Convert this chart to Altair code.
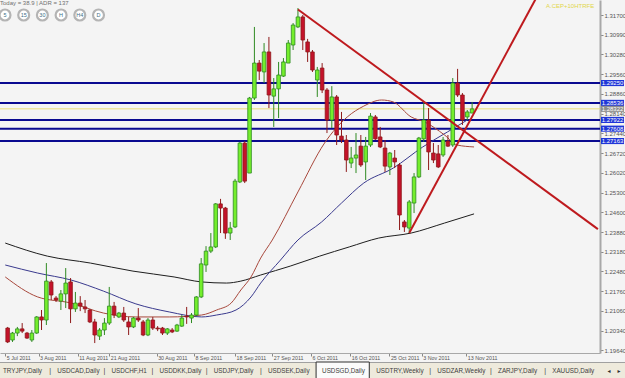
import altair as alt
import pandas as pd

# ---------------- data ----------------
opens = [1.2043, 1.2000, 1.2025, 1.2040, 1.2025, 1.2000, 1.2025, 1.2083, 1.2072, 1.2209,
         1.2151, 1.2140, 1.2166, 1.2209, 1.2112, 1.2133, 1.2119, 1.2108, 1.2065, 1.2014,
         1.2036, 1.2061, 1.2122, 1.2083, 1.2097, 1.2065, 1.2047, 1.2079, 1.2065, 1.2018,
         1.2072, 1.2043, 1.2043, 1.2025, 1.2036, 1.2032, 1.2050, 1.2086, 1.2079, 1.2090,
         1.2155, 1.2270, 1.2320, 1.2335, 1.2490, 1.2475, 1.2385, 1.2407, 1.2569, 1.2709,
         1.2601, 1.2871, 1.2997, 1.2965, 1.3037, 1.2878, 1.2904, 1.2950, 1.2997, 1.3062,
         1.3127, 1.3163, 1.3073, 1.3037, 1.2936, 1.2979, 1.2900, 1.2792, 1.2875, 1.2734,
         1.2720, 1.2637, 1.2655, 1.2698, 1.2641, 1.2702, 1.2803, 1.2731, 1.2691, 1.2623,
         1.2655, 1.2630, 1.2425, 1.2403, 1.2493, 1.2587, 1.2724, 1.2792, 1.2673, 1.2670,
         1.2666, 1.2716, 1.2702, 1.2925, 1.2882, 1.2803, 1.2817]
closes = [1.1993, 1.2025, 1.2040, 1.2032, 1.2007, 1.2025, 1.2083, 1.2072, 1.2212, 1.2162,
          1.2144, 1.2166, 1.2205, 1.2112, 1.2133, 1.2122, 1.2112, 1.2065, 1.2018, 1.2036,
          1.2061, 1.2122, 1.2090, 1.2097, 1.2072, 1.2047, 1.2079, 1.2072, 1.2018, 1.2072,
          1.2043, 1.2040, 1.2025, 1.2040, 1.2029, 1.2054, 1.2079, 1.2083, 1.2090, 1.2155,
          1.2274, 1.2320, 1.2335, 1.2490, 1.2475, 1.2385, 1.2403, 1.2572, 1.2709, 1.2572,
          1.2871, 1.2997, 1.2968, 1.3037, 1.2882, 1.2904, 1.2954, 1.3001, 1.3069, 1.3134,
          1.3163, 1.3080, 1.3037, 1.2972, 1.2972, 1.2900, 1.2792, 1.2875, 1.2738, 1.2720,
          1.2648, 1.2655, 1.2666, 1.2630, 1.2698, 1.2806, 1.2724, 1.2695, 1.2626, 1.2673,
          1.2641, 1.2450, 1.2407, 1.2497, 1.2587, 1.2727, 1.2792, 1.2677, 1.2648, 1.2623,
          1.2720, 1.2698, 1.2925, 1.2882, 1.2792, 1.2821, 1.2832]
highs = [1.2047, 1.2029, 1.2047, 1.2061, 1.2029, 1.2036, 1.2086, 1.2108, 1.2277, 1.2216,
         1.2158, 1.2180, 1.2259, 1.2223, 1.2173, 1.2158, 1.2144, 1.2112, 1.2076, 1.2043,
         1.2079, 1.2191, 1.2137, 1.2101, 1.2119, 1.2083, 1.2083, 1.2115, 1.2072, 1.2079,
         1.2083, 1.2050, 1.2047, 1.2043, 1.2043, 1.2058, 1.2090, 1.2119, 1.2097, 1.2158,
         1.2295, 1.2338, 1.2385, 1.2493, 1.2508, 1.2479, 1.2425, 1.2580, 1.2713, 1.2716,
         1.2875, 1.3127, 1.3008, 1.3069, 1.3091, 1.2943, 1.3001, 1.3015, 1.3080, 1.3141,
         1.3195, 1.3170, 1.3084, 1.3044, 1.2983, 1.2997, 1.2907, 1.2914, 1.2882, 1.2821,
         1.2738, 1.2695, 1.2745, 1.2738, 1.2731, 1.2817, 1.2810, 1.2767, 1.2720, 1.2677,
         1.2684, 1.2637, 1.2432, 1.2504, 1.2601, 1.2731, 1.2857, 1.2835, 1.2709, 1.2702,
         1.2731, 1.2738, 1.2943, 1.2976, 1.2889, 1.2828, 1.2857]
lows = [1.1989, 1.1993, 1.2014, 1.2025, 1.2004, 1.1993, 1.2022, 1.2036, 1.2054, 1.2144,
        1.2137, 1.2108, 1.2115, 1.2061, 1.2101, 1.2104, 1.2097, 1.2061, 1.1989, 1.2000,
        1.2018, 1.2054, 1.2079, 1.2079, 1.2065, 1.2018, 1.2043, 1.2065, 1.2014, 1.2014,
        1.2036, 1.2032, 1.2018, 1.2018, 1.2025, 1.2029, 1.2047, 1.2058, 1.2061, 1.2086,
        1.2151, 1.2245, 1.2313, 1.2331, 1.2385, 1.2364, 1.2360, 1.2403, 1.2565, 1.2565,
        1.2601, 1.2864, 1.2936, 1.2925, 1.2835, 1.2767, 1.2799, 1.2947, 1.2997, 1.3044,
        1.3123, 1.3044, 1.3001, 1.2965, 1.2875, 1.2889, 1.2745, 1.2763, 1.2702, 1.2709,
        1.2605, 1.2619, 1.2601, 1.2623, 1.2576, 1.2695, 1.2720, 1.2691, 1.2605, 1.2594,
        1.2619, 1.2396, 1.2389, 1.2385, 1.2457, 1.2583, 1.2713, 1.2612, 1.2637, 1.2619,
        1.2659, 1.2695, 1.2695, 1.2875, 1.2774, 1.2792, 1.2817]

ma_long_bars = [-0.5, 8.2, 17.1, 25.9, 34.4, 40.1, 45.2, 48.2, 52.3, 58.4, 64.5, 70.6, 76.7, 83.4, 90.3, 96.4]
ma_long_vals = [1.2349, 1.2302, 1.2277, 1.2248, 1.2227, 1.2209, 1.2205, 1.2212, 1.2234, 1.2266,
                1.2302, 1.2335, 1.2367, 1.2385, 1.2421, 1.2454]
ma_mid_bars = [-0.5, 6.2, 13.1, 19.8, 26.5, 33.4, 40.1, 43.2, 47.2, 50.3, 52.3, 56.4, 60.0, 64.9,
               69.0, 73.6, 79.7, 85.8, 90.9, 95.0]
ma_mid_vals = [1.2270, 1.2241, 1.2216, 1.2176, 1.2130, 1.2101, 1.2083, 1.2090, 1.2108, 1.2155,
               1.2205, 1.2288, 1.2360, 1.2425, 1.2493, 1.2565, 1.2619, 1.2695, 1.2749, 1.2792]
ma_short_bars = [-0.5, 6.2, 13.1, 19.8, 26.5, 33.4, 40.1, 43.2, 46.2, 48.2, 50.3, 52.3, 54.7, 60.0,
                 65.5, 70.2, 73.6, 77.3, 79.7, 83.4, 86.2, 90.3, 92.9, 96.4]
ma_short_vals = [1.2227, 1.2155, 1.2133, 1.2097, 1.2083, 1.2083, 1.2090, 1.2108, 1.2133, 1.2180,
                 1.2227, 1.2295, 1.2360, 1.2533, 1.2709, 1.2803, 1.2842, 1.2864, 1.2857, 1.2803,
                 1.2785, 1.2738, 1.2702, 1.2695]

trend_names = ["down", "down", "up", "up"]
trend_bars = [60.0, 122.0, 83.0, 112.0]
trend_vals = [1.3190, 1.2399, 1.2385, 1.3320]

level_prices = [1.29250, 1.28536, 1.27922, 1.27608, 1.27163]
bid_price = 1.28322

y_ticks = [1.31700, 1.30990, 1.30280, 1.29560, 1.28860, 1.28140, 1.27440, 1.26720, 1.26020,
           1.25300, 1.24600, 1.23880, 1.23180, 1.22480, 1.21760, 1.21060, 1.20340, 1.19640]
x_tick_bars = [-0.5, 6.4, 14.5, 21.0, 30.8, 38.5, 47.0, 54.7, 62.7, 70.8, 78.9, 85.6, 94.8]
x_tick_labels = ["5 Jul 2011", "3 Aug 2011", "11 Aug 2011", "21 Aug 2011", "30 Aug 2011",
                 "8 Sep 2011", "18 Sep 2011", "27 Sep 2011", "6 Oct 2011", "16 Oct 2011",
                 "25 Oct 2011", "3 Nov 2011", "13 Nov 2011"]

tab_names = ["TRYJPY,Daily", "USDCAD,Daily", "USDCHF,H1", "USDDKK,Daily", "USDJPY,Daily",
             "USDSEK,Daily", "USDSGD,Daily", "USDTRY,Weekly", "USDZAR,Weekly", "ZARJPY,Daily",
             "XAUUSD,Daily"]
active_tab = "USDSGD,Daily"
button_labels = ["5", "15", "30", "H", "H4", "D"]
info_text = "Today = 38.9   |   ADR = 137"
corner_text = "A.CEP+10HTRFE"

# ---------------- layout / style ----------------
W, H = 600, 353
BG = "#F4F4F4"
FONT = "Liberation Sans"
X_DOM = [-0.55, 121.4]
Y_DOM = [1.19532, 1.3224]

lbl_expr = ("[" + ",".join("'%s'" % t for t in x_tick_labels) + "][indexof(["
            + ",".join(str(v) for v in x_tick_bars) + "], datum.value)]")

x_axis = alt.Axis(values=x_tick_bars, labelExpr=lbl_expr, labelAlign="left", labelOffset=1,
                  labelBaseline="middle", labelFontSize=5.3, labelFont=FONT, labelColor="#555555",
                  labelPadding=1, tickSize=3, tickColor="#888888", domainColor="#A8A8A8",
                  domainWidth=1, labelOverlap=False, labelFlush=False, grid=False, title=None)
y_axis = alt.Axis(orient="right", values=y_ticks, format=".5f", labelFontSize=6, labelFont=FONT,
                  labelColor="#555555", labelPadding=1, tickSize=3, tickColor="#888888",
                  domainColor="#A8A8A8", domainWidth=2, labelOverlap=False, grid=False, title=None)

def xq(field):
    return alt.X(field + ":Q", scale=alt.Scale(domain=X_DOM, nice=False, zero=False), axis=x_axis)

def yq(field):
    return alt.Y(field + ":Q", scale=alt.Scale(domain=Y_DOM, nice=False, zero=False), axis=y_axis)

n = len(opens)
candles = pd.DataFrame({"bar": list(range(n)), "open": opens, "close": closes,
                        "high": highs, "low": lows})
candles["dir"] = ["up" if c >= o else "down" for o, c in zip(opens, closes)]
is_up = "datum.dir == 'up'"

levels = alt.Chart(pd.DataFrame({"price": level_prices})).mark_rule(
    color="#0A0A90", strokeWidth=2).encode(y=yq("price"))
bid_line = alt.Chart(pd.DataFrame({"price": [bid_price]})).mark_rule(
    color="#EBDD7A", strokeWidth=1).encode(y=yq("price"))

def ma_layer(bars, vals, color):
    d = pd.DataFrame({"bar": bars, "val": vals})
    return alt.Chart(d).mark_line(color=color, strokeWidth=1, interpolate="monotone").encode(
        x=xq("bar"), y=yq("val"))

ma_long = ma_layer(ma_long_bars, ma_long_vals, "#1E1E1E")
ma_mid = ma_layer(ma_mid_bars, ma_mid_vals, "#3A3A8E")
ma_short = ma_layer(ma_short_bars, ma_short_vals, "#A8483C")

wicks = alt.Chart(candles).mark_rule(strokeWidth=1).encode(
    x=xq("bar"), y=yq("low"), y2="high",
    color=alt.condition(is_up, alt.value("#2F8A22"), alt.value("#8E1A1A")))
bodies = alt.Chart(candles).mark_bar(size=3.6, strokeWidth=0.8).encode(
    x=xq("bar"), y=yq("open"), y2="close",
    fill=alt.condition(is_up, alt.value("#74EE2C"), alt.value("#C4122A")),
    stroke=alt.condition(is_up, alt.value("#2F8A22"), alt.value("#8E1A1A")))

trend_df = pd.DataFrame({"name": trend_names, "bar": trend_bars, "val": trend_vals})
trends = alt.Chart(trend_df).mark_line(color="#BE1A1E", strokeWidth=2, clip=True).encode(
    x=xq("bar"), y=yq("val"), detail="name:N")

# price tags on the right axis
half = 0.0011
tag_prices = level_prices + [bid_price]
tags_df = pd.DataFrame({"price": tag_prices,
                        "lo": [p - half for p in tag_prices],
                        "hi": [p + half for p in tag_prices],
                        "kind": ["level"] * len(level_prices) + ["bid"]})
tag_boxes = alt.Chart(tags_df).mark_rect().encode(
    x=alt.value(601), x2=alt.value(624), y=yq("lo"), y2="hi",
    color=alt.condition("datum.kind == 'bid'", alt.value("#8C8C8C"), alt.value("#2036D8")))
tag_text = alt.Chart(tags_df).mark_text(fontSize=6, font=FONT, color="white",
                                        align="center", baseline="middle").encode(
    x=alt.value(612.5), y=yq("price"), text=alt.Text("price:Q", format=".5f"))

# ---------------- window chrome (pixel placed) ----------------
def px_x(f):
    return alt.X(f + ":Q", scale=None, axis=None)

def px_y(f):
    return alt.Y(f + ":Q", scale=None, axis=None)

info = alt.Chart(pd.DataFrame({"t": [info_text], "px": [0], "py": [3]})).mark_text(
    fontSize=6, font=FONT, color="#707070", align="left", baseline="middle").encode(
    x=px_x("px"), y=px_y("py"), text="t:N")
corner = alt.Chart(pd.DataFrame({"t": [corner_text], "px": [546], "py": [6]})).mark_text(
    fontSize=6, font=FONT, color="#E2D64A", align="left", baseline="middle").encode(
    x=px_x("px"), y=px_y("py"), text="t:N")

btn_df = pd.DataFrame({"t": button_labels,
                       "px": [5 + 18.7 * k for k in range(len(button_labels))],
                       "py": [15] * len(button_labels)})
btn_circles = alt.Chart(btn_df).mark_point(shape="circle", size=120, filled=False,
                                           stroke="#B4B4B4", strokeWidth=2.2, fill="white",
                                           fillOpacity=1).encode(
    x=px_x("px"), y=px_y("py"))
btn_text = alt.Chart(btn_df).mark_text(fontSize=5.5, font=FONT, color="#3D6F86",
                                       align="center", baseline="middle").encode(
    x=px_x("px"), y=px_y("py"), text="t:N")

def text_w(s, fs):
    w = 0.0
    for ch in s:
        if ch in "MW":
            w += 0.92
        elif ch.isupper():
            w += 0.66
        elif ch.isdigit():
            w += 0.556
        elif ch in "il,.|":
            w += 0.24
        else:
            w += 0.52
    return w * fs

TAB_FS = 6.3
TAB_Y = 370.5
starts, widths = [], []
cur = 3.0
for name in tab_names:
    tw = text_w(name, TAB_FS)
    starts.append(cur)
    widths.append(tw)
    cur += tw + 14
tabs_df = pd.DataFrame({"t": tab_names, "px": starts, "py": [TAB_Y] * len(tab_names)})
ai = tab_names.index(active_tab)
seps = []
for k in range(len(tab_names) - 1):
    if k == ai or k + 1 == ai:
        continue
    seps.append((starts[k] + widths[k] + starts[k + 1]) / 2)
sep_df = pd.DataFrame({"t": ["|"] * len(seps), "px": seps, "py": [TAB_Y] * len(seps)})

dummy = pd.DataFrame({"d": [0]})
tab_bar = alt.Chart(dummy).mark_rect(color="#EEEADC").encode(
    x=alt.value(0), x2=alt.value(625), y=alt.value(362.5), y2=alt.value(378))
tab_line = alt.Chart(dummy).mark_rule(color="#A0A0A0", strokeWidth=1).encode(
    x=alt.value(0), x2=alt.value(625), y=alt.value(362.5))
active_box = alt.Chart(dummy).mark_rect(fill="#FBFBFB", stroke="#303030", strokeWidth=1).encode(
    x=alt.value(starts[ai] - 6), x2=alt.value(starts[ai] + widths[ai] + 7),
    y=alt.value(362), y2=alt.value(379))
tab_text = alt.Chart(tabs_df).mark_text(fontSize=TAB_FS, font=FONT, color="#404040",
                                        align="left", baseline="middle").encode(
    x=px_x("px"), y=px_y("py"), text="t:N")
sep_text = alt.Chart(sep_df).mark_text(fontSize=7, font=FONT, color="#404040",
                                       align="center", baseline="middle").encode(
    x=px_x("px"), y=px_y("py"), text="t:N")
arrows_df = pd.DataFrame({"t": ["\u25C2", "\u25B8"], "px": [609, 619], "py": [TAB_Y, TAB_Y]})
arrows = alt.Chart(arrows_df).mark_text(fontSize=6, font="DejaVu Sans", color="#303030",
                                        align="center", baseline="middle").encode(
    x=px_x("px"), y=px_y("py"), text="t:N")

chart = alt.layer(
    levels, bid_line, ma_long, ma_mid, ma_short, wicks, bodies, trends,
    tag_boxes, tag_text, info, corner, btn_circles, btn_text,
    tab_bar, tab_line, active_box, tab_text, sep_text, arrows
).properties(
    width=W, height=H,
    autosize=alt.AutoSizeParams(type="none"),
    padding={"left": 0, "top": 0, "right": 25, "bottom": 25},
    background=BG,
).configure_view(stroke=None, fill=BG)

chart.save("out.html", embed_options={"renderer": "svg", "actions": False})
